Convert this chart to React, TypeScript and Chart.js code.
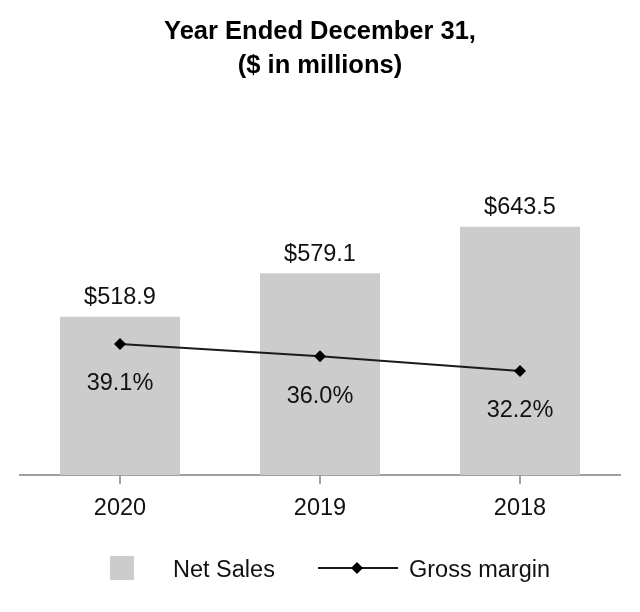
import React, { useEffect, useRef } from "react";
import { Chart, registerables } from "chart.js";

Chart.register(...registerables);

const categories = ["2020", "2019", "2018"];
const netSales = [518.9, 579.1, 643.5];
const grossMargin = [39.1, 36.0, 32.2];
const titleLines = ["Year Ended December 31,", "($ in millions)"];
const legendLabels = ["Net Sales", "Gross margin"];

const FONT = "'Liberation Sans', Arial, Helvetica, sans-serif";
const BAR_COLOR = "#cccccc";
const LINE_COLOR = "#1a1a1a";
const AXIS_COLOR = "#a0a0a0";

const valueLabels = {
  id: "valueLabels",
  afterDatasetsDraw(chart: any) {
    const ctx = chart.ctx;
    ctx.save();
    ctx.font = `23.5px ${FONT}`;
    ctx.fillStyle = "#111";
    ctx.textAlign = "center";
    ctx.textBaseline = "middle";
    const bars = chart.getDatasetMeta(0).data;
    bars.forEach((el: any, i: number) => {
      ctx.fillText("$" + netSales[i].toFixed(1), el.x, el.y - 19);
    });
    const pts = chart.getDatasetMeta(1).data;
    pts.forEach((el: any, i: number) => {
      ctx.fillText(grossMargin[i].toFixed(1) + "%", el.x, el.y + 40);
    });
    ctx.restore();
  },
};

const customLegend = {
  id: "customLegend",
  afterDraw(chart: any) {
    const ctx = chart.ctx;
    const cx = chart.width / 2;
    const y = 560;
    ctx.save();
    // Net Sales box
    ctx.fillStyle = BAR_COLOR;
    ctx.fillRect(cx - 210, y - 12, 24, 24);
    ctx.font = `23.5px ${FONT}`;
    ctx.fillStyle = "#111";
    ctx.textAlign = "left";
    ctx.textBaseline = "middle";
    ctx.fillText(legendLabels[0], cx - 147, y + 3);
    // Gross margin line
    ctx.strokeStyle = LINE_COLOR;
    ctx.lineWidth = 2;
    ctx.beginPath();
    ctx.moveTo(cx - 2, y);
    ctx.lineTo(cx + 78, y);
    ctx.stroke();
    ctx.fillStyle = "#000";
    const dx = cx + 37;
    const r = 6;
    ctx.beginPath();
    ctx.moveTo(dx, y - r);
    ctx.lineTo(dx + r, y);
    ctx.lineTo(dx, y + r);
    ctx.lineTo(dx - r, y);
    ctx.closePath();
    ctx.fill();
    ctx.fillStyle = "#111";
    ctx.fillText(legendLabels[1], cx + 89, y + 3);
    ctx.restore();
  },
};

export default function App() {
  const ref = useRef<HTMLCanvasElement | null>(null);
  useEffect(() => {
    if (!ref.current) return;
    const chart = new Chart(ref.current, {
      type: "bar",
      data: {
        labels: categories,
        datasets: [
          {
            type: "bar",
            label: legendLabels[0],
            data: netSales,
            backgroundColor: BAR_COLOR,
            borderWidth: 0,
            barPercentage: 0.6,
            categoryPercentage: 1.0,
            yAxisID: "y",
            order: 2,
          },
          {
            type: "line",
            label: legendLabels[1],
            data: grossMargin,
            borderColor: LINE_COLOR,
            borderWidth: 2,
            backgroundColor: "#000",
            pointStyle: "rectRot",
            pointRadius: 6,
            pointBackgroundColor: "#000",
            pointBorderWidth: 0,
            tension: 0,
            yAxisID: "y1",
            order: 1,
          } as any,
        ],
      },
      options: {
        responsive: false,
        animation: false,
        layout: { padding: { left: 12, right: 12, top: 0, bottom: 79 } },
        plugins: {
          legend: { display: false },
          tooltip: { enabled: false },
          title: {
            display: true,
            text: titleLines,
            color: "#000",
            font: { family: FONT, size: 25.5, weight: "bold", lineHeight: 34 / 25.5 },
            padding: { top: 6.5, bottom: 103.5 },
          },
        },
        scales: {
          x: {
            grid: {
              display: true,
              drawOnChartArea: false,
              drawTicks: true,
              tickLength: 9,
              offset: false,
              color: AXIS_COLOR,
              lineWidth: 2,
            },
            border: { display: true, color: AXIS_COLOR, width: 2 },
            ticks: {
              color: "#111",
              font: { family: FONT, size: 23.5 },
              padding: 10,
            },
            afterFit(scale: any) {
              scale.height = 50;
            },
          },
          y: { display: false, min: 300, max: 700 },
          y1: { display: false, min: 5.62, max: 79.48 },
        },
      },
      plugins: [valueLabels, customLegend],
    });
    return () => chart.destroy();
  }, []);
  return (
    <canvas
      ref={ref}
      width={624}
      height={596}
      style={{ display: "block", width: 624, height: 596 }}
    />
  );
}
